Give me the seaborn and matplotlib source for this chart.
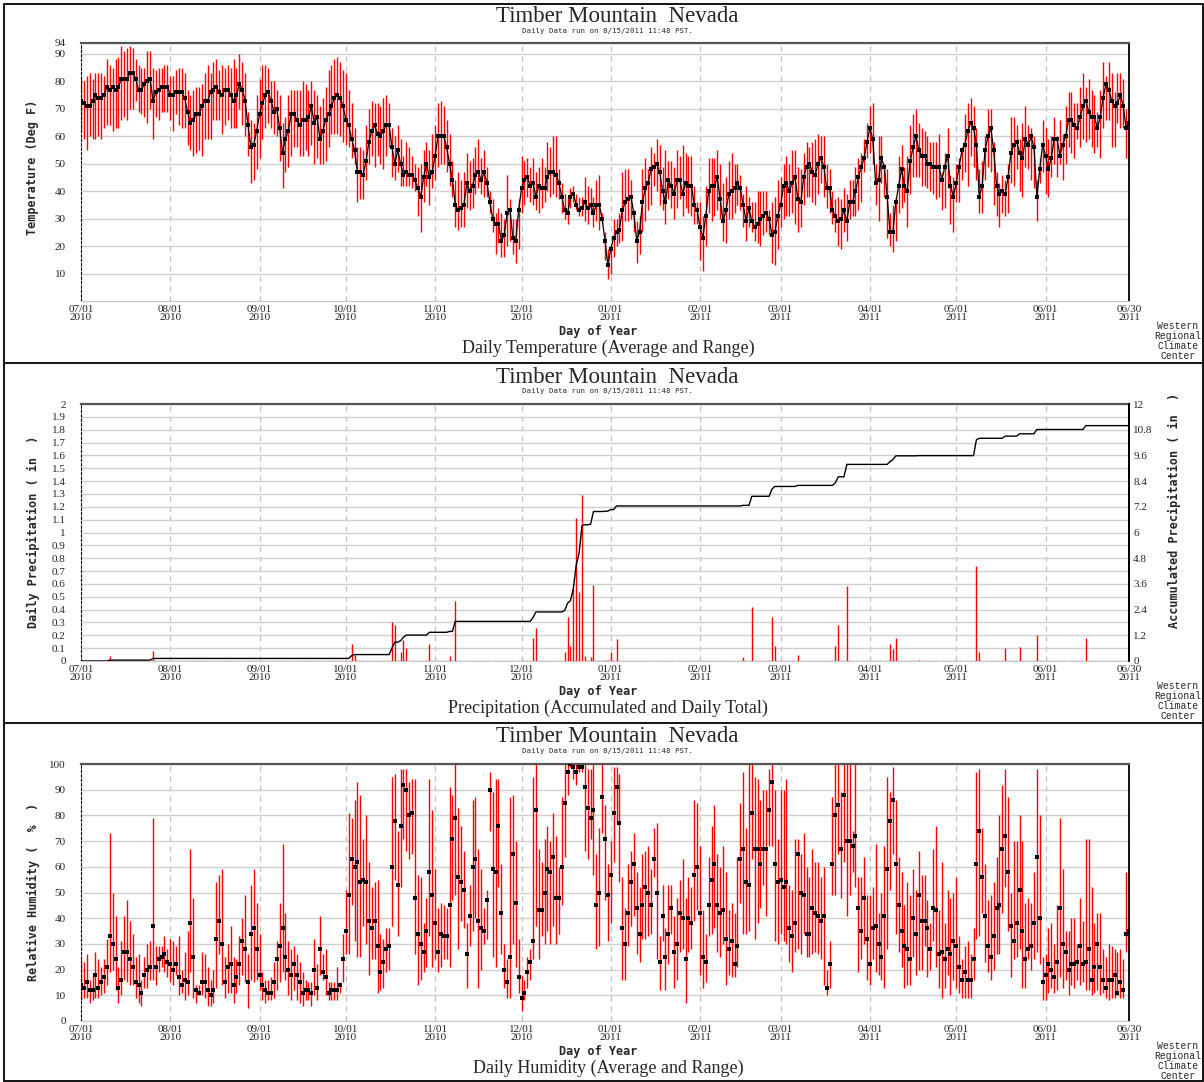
import numpy as np
import matplotlib
matplotlib.use("Agg")
import matplotlib.pyplot as plt
from matplotlib.patches import Rectangle
from matplotlib.lines import Line2D
import seaborn as sns

# ---- data ----
month_days = [0, 31, 62, 92, 123, 153, 184, 215, 243, 274, 304, 335, 364]
month_labels = ["07/01\n2010", "08/01\n2010", "09/01\n2010", "10/01\n2010", "11/01\n2010",
                "12/01\n2010", "01/01\n2011", "02/01\n2011", "03/01\n2011", "04/01\n2011",
                "05/01\n2011", "06/01\n2011", "06/30\n2011"]

temp_avg = [73, 72, 71, 71, 73, 75, 74, 74, 75, 78, 77, 78, 77, 78, 81, 81, 81, 83, 83, 81,
            77, 77, 79, 80, 81, 73, 76, 77, 78, 78, 78, 75, 75, 76, 76, 76, 74, 69, 65, 66,
            68, 68, 71, 73, 73, 76, 77, 78, 76, 75, 77, 77, 75, 73, 75, 79, 77, 73, 64, 56,
            57, 62, 68, 72, 75, 76, 73, 69, 70, 63, 54, 59, 62, 68, 68, 66, 64, 66, 66, 67,
            71, 65, 67, 59, 62, 66, 68, 71, 74, 75, 74, 71, 66,
            64, 59, 55, 47, 47, 46, 51,
            58, 62, 64, 61, 60, 62, 64, 64, 56, 50, 55, 50, 46, 47, 46, 46, 44, 41, 38, 45,
            50, 45, 47, 53, 60, 60, 60, 56, 50, 44, 35, 33, 34, 35, 43, 40, 42, 46, 47, 44,
            47, 43, 36, 30, 28, 28, 22, 24, 32, 33, 23, 22, 33, 41, 44, 45, 42, 43, 38, 42,
            41, 41, 45, 47, 47, 46, 43, 38, 33, 32, 38, 39, 35, 33, 34, 36, 34, 35, 32, 35,
            35, 30, 22, 13,
            19, 23, 25, 26, 33, 36, 37, 38, 32, 22, 25, 36, 41, 43, 48, 49, 50, 47, 40, 36,
            44, 42, 39, 44, 44, 39, 43, 42, 42, 35, 33, 27, 23, 31, 40, 42, 42, 45, 37, 29,
            33, 39, 40, 41, 43, 41, 35, 29, 34, 29, 27, 28, 30, 31, 32, 30, 24, 25, 31, 35,
            42, 43, 40, 43, 45, 37, 36, 45, 49, 50, 47, 46, 50, 52, 49, 41, 41, 33, 31, 29,
            30, 33, 29, 36, 36, 40, 45, 49, 52, 58, 63, 59,
            43, 44, 52, 49, 38, 25, 25, 36, 42, 48, 42, 40, 51, 56, 60, 55, 53, 53, 50, 50,
            49, 49, 49, 44, 49, 53, 42, 38, 43, 49, 55, 57, 62, 65, 63, 57, 38, 42, 55, 60,
            63, 55, 42, 39, 40, 39, 45, 54, 57, 58, 54, 52, 59, 57, 60, 56, 38, 48, 57, 53,
            48, 52, 59, 59, 53, 57, 60, 66, 66, 64, 63, 67, 71, 73, 69, 67, 67, 63, 67, 74,
            79, 77, 73, 71, 72, 75, 71, 63, 65]

temp_max = [81, 80, 82, 83, 81, 83, 83, 83, 82, 88, 86, 85, 88, 89, 93, 91, 92, 93, 92, 88,
            86, 85, 85, 91, 91, 85, 84, 85, 85, 86, 86, 82, 82, 84, 85, 85, 83, 77, 75, 77,
            78, 78, 79, 83, 86, 83, 87, 88, 84, 86, 85, 86, 85, 88, 85, 90, 87, 83, 69, 66,
            65, 75, 81, 86, 86, 85, 80, 80, 77, 75, 65, 67, 75, 77, 77, 77, 77, 80, 79, 77,
            80, 77, 75, 71, 74, 78, 84, 86, 88, 89, 87, 84, 83,
            77, 72, 63, 56, 56, 55, 64,
            70, 73, 72, 72, 71, 74, 75, 72, 63, 60, 64, 59, 53, 58, 56, 53, 50, 49, 50, 55,
            58, 55, 61, 64, 72, 73, 71, 66, 61, 51, 44, 47, 44, 47, 54, 51, 52, 56, 59, 52,
            55, 49, 40, 37, 32, 34, 32, 30, 46, 37, 30, 30, 37, 53, 51, 52, 49, 52, 47, 49,
            52, 49, 58, 56, 60, 60, 48, 43, 39, 38, 41, 42, 39, 38, 38, 45, 42, 41, 38, 44,
            46, 32, 25, 19,
            20, 30, 30, 32, 47, 48, 48, 44, 33, 29, 31, 48, 52, 48, 56, 54, 59, 57, 49, 55,
            51, 51, 49, 55, 53, 57, 54, 53, 53, 42, 36, 36, 31, 42, 52, 52, 52, 55, 50, 43,
            45, 51, 54, 50, 50, 46, 39, 42, 38, 36, 36, 40, 40, 40, 40, 33, 36, 38, 44, 45,
            50, 53, 50, 55, 55, 49, 48, 54, 58, 56, 58, 59, 61, 60, 60, 50, 48, 40, 37, 38,
            37, 41, 39, 44, 44, 49, 52, 54, 59, 65, 71, 72,
            50, 60, 60, 50, 48, 32, 35, 38, 53, 57, 49, 53, 64, 68, 70, 65, 63, 62, 60, 58,
            58, 58, 61, 47, 54, 63, 46, 45, 50, 52, 56, 68, 72, 74, 71, 63, 48, 51, 60, 70,
            70, 58, 47, 43, 46, 44, 50, 67, 67, 64, 59, 65, 71, 64, 63, 60, 44, 52, 66, 63,
            59, 60, 67, 60, 66, 61, 71, 76, 76, 72, 72, 78, 83, 78, 81, 77, 75, 69, 77, 87,
            82, 87, 83, 76, 83, 83, 81, 70, 79]

temp_min = [62, 59, 55, 60, 59, 59, 60, 59, 63, 64, 64, 62, 63, 63, 66, 67, 66, 70, 70, 73,
            69, 68, 67, 65, 70, 59, 67, 66, 69, 69, 69, 66, 62, 68, 64, 63, 63, 57, 55, 53,
            54, 55, 53, 59, 59, 59, 66, 66, 66, 61, 64, 66, 63, 63, 63, 70, 64, 60, 53, 43,
            44, 48, 52, 59, 63, 65, 63, 61, 60, 51, 41, 47, 49, 53, 56, 56, 53, 53, 55, 53,
            57, 50, 52, 50, 50, 51, 56, 61, 61, 61, 60, 58, 57,
            56, 52, 50, 36, 37, 37, 44,
            50, 53, 49, 53, 50, 48, 53, 56, 45, 44, 47, 42, 42, 42, 42, 41, 40, 31, 25, 36,
            42, 35, 41, 44, 49, 50, 50, 47, 42, 38, 27, 26, 27, 27, 34, 33, 34, 39, 41, 39,
            38, 38, 32, 25, 17, 21, 16, 16, 20, 22, 17, 14, 19, 32, 35, 38, 36, 35, 33, 32,
            34, 36, 40, 38, 39, 38, 37, 32, 30, 28, 34, 36, 33, 31, 31, 29, 28, 32, 27, 29,
            26, 28, 15, 8,
            10, 16, 20, 21, 22, 29, 29, 30, 25, 14, 17, 25, 29, 33, 35, 42, 40, 35, 33, 28,
            37, 34, 30, 34, 37, 31, 34, 32, 31, 28, 28, 15, 11, 20, 32, 29, 31, 33, 30, 22,
            21, 30, 30, 32, 35, 33, 27, 22, 27, 25, 22, 21, 20, 24, 25, 24, 14, 13, 19, 27,
            30, 31, 31, 32, 28, 25, 27, 35, 38, 38, 36, 35, 39, 43, 38, 34, 32, 28, 25, 20,
            19, 25, 22, 30, 31, 31, 33, 36, 47, 52, 54, 50,
            35, 29, 43, 38, 23, 20, 18, 22, 32, 34, 36, 27, 39, 45, 45, 45, 42, 42, 41, 40,
            39, 37, 38, 33, 34, 41, 28, 25, 36, 36, 44, 47, 42, 53, 49, 44, 32, 32, 44, 49,
            47, 35, 31, 27, 32, 31, 32, 43, 42, 48, 40, 38, 49, 48, 44, 41, 29, 43, 47, 39,
            38, 45, 50, 45, 50, 44, 50, 56, 54, 52, 59, 56, 59, 58, 59, 56, 54, 56, 52, 63,
            66, 66, 56, 56, 65, 63, 63, 52, 50]

hum_avg = [14, 13, 15, 12, 12, 18, 13, 15, 17, 21, 33, 30, 24, 13, 16, 27, 27, 24, 21, 15,
           14, 11, 18, 20, 21, 37, 21, 24, 25, 26, 23, 22, 20, 22, 17, 14, 16, 15, 38, 25,
           12, 11, 15, 15, 12, 10, 12, 32, 39, 30, 15, 21, 22, 14, 17, 22, 31, 28, 15, 34,
           36, 28, 18, 14, 12, 11, 11, 15, 24, 29, 36, 25, 20, 18, 22, 18, 15, 11, 12, 12,
           11, 20, 13, 28, 19, 17, 11, 12, 12, 12, 14, 24, 35,
           49, 63, 60, 62, 54, 55, 54,
           39, 36, 39, 29, 19, 23, 28, 29, 60, 78, 53, 76, 92, 90, 80, 81, 48, 34, 30, 27,
           35, 58, 49, 38, 27, 34, 33, 33, 45, 71, 79, 56, 54, 51, 26, 41, 60, 63, 39, 36,
           35, 47, 90, 59, 58, 76, 42, 20, 15, 25, 65, 46, 17, 9, 11, 19, 23, 31, 82, 43,
           43, 50, 59, 58, 64, 48, 48, 60, 85, 97, 100, 99, 97, 99, 99, 91, 83, 79, 82, 45,
           50, 87, 71, 49,
           57, 81, 91, 77, 36, 30, 42, 54, 61, 44, 34, 45, 52, 50, 45, 63, 50, 23, 41, 25,
           34, 44, 27, 30, 42, 40, 24, 40, 38, 57, 60, 42, 25, 23, 45, 55, 61, 45, 42, 43,
           32, 28, 31, 22, 29, 63, 67, 54, 53, 81, 67, 67, 61, 67, 67, 82, 93, 61, 54, 55,
           52, 54, 36, 33, 38, 65, 50, 49, 34, 34, 44, 42, 41, 39, 41, 13, 22, 61, 80, 84,
           67, 88, 70, 70, 68, 72, 44, 35, 48, 32, 22, 36,
           37, 30, 25, 41, 59, 78, 86, 61, 45, 35, 29, 28, 24, 40, 34, 49, 39, 39, 36, 28,
           44, 43, 26, 27, 24, 28, 26, 31, 29, 21, 16, 19, 16, 16, 24, 61, 74, 56, 41, 29,
           25, 33, 44, 45, 67, 72, 58, 37, 31, 38, 51, 35, 24, 28, 29, 38, 64, 40, 15, 18,
           22, 20, 17, 23, 44, 30, 27, 20, 22, 22, 23, 29, 22, 23, 28, 16, 21, 30, 21, 16,
           13, 16, 16, 18, 11, 15, 12, 34, 35]

hum_max = [24, 23, 26, 16, 18, 27, 24, 21, 24, 32, 73, 50, 41, 21, 31, 41, 47, 39, 34, 25,
           26, 16, 25, 30, 31, 79, 29, 29, 29, 33, 28, 32, 31, 29, 33, 20, 27, 35, 67, 48,
           14, 14, 27, 26, 21, 16, 20, 54, 57, 59, 25, 30, 37, 25, 24, 33, 40, 49, 26, 53,
           59, 46, 34, 19, 16, 16, 17, 23, 31, 46, 69, 42, 31, 28, 29, 26, 23, 19, 16, 15,
           15, 32, 22, 41, 26, 28, 15, 15, 15, 21, 15, 34, 51,
           81, 79, 86, 93, 88, 71, 80,
           62, 52, 54, 55, 34, 32, 36, 36, 95, 96, 74, 98, 98, 98, 93, 94, 94, 57, 56, 38,
           48, 94, 82, 59, 44, 46, 45, 44, 91, 88, 100, 83, 76, 66, 38, 53, 86, 87, 67, 59,
           44, 51, 97, 89, 94, 94, 61, 30, 24, 87, 88, 70, 32, 18, 16, 25, 28, 95, 100, 67,
           62, 71, 76, 70, 81, 72, 60, 87, 100, 100, 100, 100, 100, 100, 100, 100, 98, 98, 100, 65,
           75, 100, 84, 61,
           70, 99, 99, 96, 56, 44, 61, 66, 73, 58, 52, 65, 66, 68, 59, 75, 77, 33, 53, 36,
           53, 53, 41, 48, 55, 63, 48, 56, 52, 86, 85, 68, 43, 34, 64, 76, 84, 65, 60, 68,
           58, 43, 46, 42, 64, 85, 97, 75, 100, 100, 95, 94, 86, 90, 90, 98, 100, 90, 71, 90,
           90, 94, 53, 51, 71, 71, 65, 73, 60, 56, 67, 62, 62, 56, 60, 20, 31, 87, 100, 100,
           89, 100, 100, 100, 74, 100, 56, 56, 64, 49, 49, 52,
           69, 42, 50, 68, 95, 89, 99, 86, 64, 58, 45, 54, 49, 59, 51, 66, 57, 57, 47, 38,
           67, 76, 43, 62, 38, 51, 48, 50, 56, 33, 24, 29, 31, 26, 36, 97, 98, 75, 61, 47,
           49, 54, 64, 80, 92, 98, 87, 50, 70, 70, 80, 70, 46, 48, 46, 58, 98, 80, 25, 26,
           36, 38, 30, 45, 79, 59, 35, 35, 40, 40, 30, 48, 39, 71, 71, 52, 38, 42, 42, 28,
           25, 30, 29, 28, 27, 28, 24, 58, 67]

hum_min = [8, 9, 9, 7, 8, 9, 9, 10, 11, 14, 19, 20, 12, 7, 10, 16, 15, 14, 14, 9,
           7, 6, 13, 13, 16, 16, 14, 19, 21, 19, 17, 15, 14, 18, 10, 11, 8, 10, 19, 9,
           7, 10, 10, 9, 6, 6, 7, 13, 26, 14, 9, 11, 11, 7, 11, 14, 18, 15, 5, 16,
           15, 16, 12, 8, 7, 8, 8, 9, 12, 15, 19, 16, 10, 8, 12, 8, 7, 6, 8, 8,
           6, 10, 8, 18, 16, 10, 8, 8, 8, 8, 11, 15, 26,
           26, 45, 31, 25, 25, 37, 30,
           18, 24, 24, 11, 12, 13, 19, 20, 37, 55, 33, 52, 71, 66, 63, 65, 26, 14, 16, 19,
           21, 33, 21, 24, 19, 21, 24, 24, 21, 47, 49, 28, 39, 36, 13, 29, 35, 40, 13, 20,
           30, 32, 74, 25, 21, 52, 26, 13, 9, 9, 30, 21, 11, 4, 8, 13, 16, 24, 37, 24,
           33, 30, 35, 30, 37, 30, 34, 45, 64, 88, 99, 94, 92, 97, 97, 66, 63, 71, 57, 28,
           29, 73, 47, 31,
           38, 62, 77, 54, 16, 16, 29, 37, 41, 26, 23, 32, 32, 33, 34, 56, 24, 12, 31, 12,
           22, 34, 13, 16, 27, 28, 7, 27, 28, 39, 43, 18, 13, 15, 33, 34, 36, 27, 25, 30,
           14, 18, 17, 17, 21, 46, 34, 34, 35, 63, 32, 38, 44, 53, 41, 68, 68, 31, 30, 34,
           31, 30, 23, 19, 27, 28, 26, 34, 25, 25, 26, 27, 26, 24, 14, 10, 13, 49, 49, 65,
           48, 62, 41, 49, 58, 52, 19, 24, 30, 16, 14, 24,
           19, 18, 16, 13, 28, 51, 65, 34, 27, 21, 13, 14, 14, 25, 18, 20, 20, 29, 17, 20,
           31, 21, 13, 9, 13, 18, 10, 16, 13, 11, 9, 9, 9, 9, 16, 32, 33, 42, 23, 19,
           16, 20, 26, 26, 42, 52, 35, 17, 24, 25, 28, 13, 13, 24, 20, 24, 27, 22, 8, 8,
           11, 13, 11, 12, 17, 13, 16, 10, 14, 13, 16, 14, 15, 12, 12, 10, 11, 12, 10, 11,
           9, 8, 9, 9, 10, 9, 9, 27, 17]

rain_days = [10, 25, 94, 95, 108, 109, 111, 112, 113, 121, 128, 130, 157, 158, 168, 169,
             170, 171, 172, 173, 174, 175, 177, 178, 182, 183, 184, 186, 230, 233, 240, 241,
             249, 262, 263, 266, 281, 282, 283, 291, 311, 312, 321, 326, 332, 349]
rain_in = [0.04, 0.08, 0.13, 0.05, 0.30, 0.28, 0.07, 0.16, 0.10, 0.13, 0.04, 0.47, 0.18, 0.26,
           0.07, 0.34, 0.12, 0.56, 1.11, 0.54, 1.29, 0.04, 0.03, 0.59, 0.01, 0.01, 0.07, 0.17,
           0.03, 0.42, 0.34, 0.12, 0.05, 0.12, 0.28, 0.58, 0.13, 0.09, 0.18, 0.01, 0.74, 0.07,
           0.10, 0.11, 0.20, 0.18]

days = np.arange(len(temp_avg))
daily_rain = np.zeros(len(days))
daily_rain[rain_days] = rain_in
accum_rain = np.cumsum(daily_rain)

# ---- figure ----
W, H = 1204, 1082
sns.set_style("white")
plt.rcParams["font.family"] = ["DejaVu Sans"]
SERIF = "Liberation Serif"
MONO = "DejaVu Sans Mono"
COUR = "Liberation Mono"

fig = plt.figure(figsize=(W / 100, H / 100), dpi=100)


def fx(x):
    return x / W


def fy(y):
    return 1 - y / H


def base_axes(top, bottom, ylim, yticks, ylabels):
    ax = fig.add_axes([fx(81), fy(bottom), fx(1048), (bottom - top) / H])
    ax.set_xlim(0, 364)
    ax.set_ylim(*ylim)
    ax.set_xticks(month_days)
    ax.set_xticklabels(month_labels, fontsize=8, family=SERIF, linespacing=0.85)
    ax.set_yticks(yticks)
    ax.set_yticklabels(ylabels, fontsize=8, family=SERIF)
    ax.tick_params(axis="both", length=0)
    ax.tick_params(axis="x", pad=3)
    ax.tick_params(axis="y", pad=11)
    ax.yaxis.grid(True, color="#cfcfcf", lw=1.0)
    ax.xaxis.grid(True, color="#bdbdbd", lw=0.9, ls=(0, (4, 4)))
    ax.set_axisbelow(True)
    ax.spines["left"].set_linestyle((0, (2, 2)))
    ax.spines["left"].set_color("black")
    ax.spines["top"].set_color("#555555")
    ax.spines["top"].set_linewidth(1.6)
    ax.spines["bottom"].set_color("#c8c8c8")
    ax.spines["right"].set_color("black")
    ax.spines["right"].set_linewidth(1.3)
    return ax


def panel_text(off, caption):
    fig.text(fx(617), fy(17 + off), "Timber Mountain  Nevada", family=SERIF,
             fontsize=16.5, ha="center", va="center")
    fig.text(fx(608), fy(31 + off), "Daily Data run on 8/15/2011 11:48 PST.", family=MONO,
             fontsize=5.3, ha="center", va="center")
    fig.text(fx(598), fy(332 + off), "Day of Year", family=MONO, weight="bold",
             fontsize=8.5, ha="center", va="center")
    fig.text(fx(608), fy(348 + off), caption, family=SERIF, fontsize=13,
             ha="center", va="center")
    fig.text(fx(1178), fy(321 + off), "Western\nRegional\nClimate\nCenter", family=COUR,
             fontsize=7, ha="center", va="top", linespacing=1.0)


# temperature panel
ax_t = base_axes(43, 301, (0, 94), [10, 20, 30, 40, 50, 60, 70, 80, 90, 94],
                 ["10", "20", "30", "40", "50", "60", "70", "80", "90", "94"])
ax_t.vlines(days, temp_min, temp_max, color="red", lw=1.0, zorder=2)
sns.lineplot(x=days, y=temp_avg, ax=ax_t, color="black", lw=0.9, marker="s",
             markersize=2.2, markeredgewidth=0, zorder=3)
ax_t.set_xlabel("")
ax_t.set_ylabel("")
fig.text(fx(33), fy(167), "Temperature (Deg F)", family=MONO, weight="bold", fontsize=8.5,
         rotation=90, ha="center", va="center")
panel_text(0, "Daily Temperature (Average and Range)")

# precipitation panel
p_ticks = [round(0.1 * i, 1) for i in range(21)]
ax_p = base_axes(404, 661, (0, 2), p_ticks, ["%g" % v for v in p_ticks])
ax_p.vlines(days, 0, daily_rain, color="red", lw=1.0, zorder=2)
ax_p.axhline(0, color="red", lw=1.0, ls=(0, (1, 1.5)), zorder=2)
ax_r = ax_p.twinx()
sns.lineplot(x=days, y=accum_rain, ax=ax_r, color="black", lw=1.0, zorder=3)
ax_r.set_ylim(0, 12)
r_ticks = [round(1.2 * i, 1) for i in range(11)]
ax_r.set_yticks(r_ticks)
ax_r.set_yticklabels(["%g" % v for v in r_ticks], fontsize=8, family=SERIF)
ax_r.tick_params(axis="y", length=0, pad=3)
ax_r.set_ylabel("")
ax_r.set_xlabel("")
for s in ["left", "top", "bottom"]:
    ax_r.spines[s].set_visible(False)
ax_r.spines["right"].set_color("black")
ax_r.spines["right"].set_linewidth(1.3)
fig.text(fx(33), fy(532), "Daily Precipitation ( in  )", family=MONO, weight="bold",
         fontsize=8.5, rotation=90, ha="center", va="center")
fig.text(fx(1174), fy(510), "Accumulated Precipitation ( in  )", family=MONO, weight="bold",
         fontsize=8.5, rotation=90, ha="center", va="center")
panel_text(360, "Precipitation (Accumulated and Daily Total)")

# humidity panel
h_ticks = list(range(0, 101, 10))
ax_h = base_axes(764, 1021, (0, 100), h_ticks, [str(v) for v in h_ticks])
ax_h.vlines(days, hum_min, hum_max, color="red", lw=1.0, zorder=2)
sns.scatterplot(x=days, y=hum_avg, ax=ax_h, color="black", marker="s", s=5,
                linewidth=0, zorder=3)
ax_h.set_xlabel("")
ax_h.set_ylabel("")
fig.text(fx(33), fy(892), "Relative Humidity (  %  )", family=MONO, weight="bold",
         fontsize=8.5, rotation=90, ha="center", va="center")
panel_text(720, "Daily Humidity (Average and Range)")

# panel frames
fig.add_artist(Rectangle((fx(4), fy(1081)), fx(1199), 1077 / H, transform=fig.transFigure,
                         fill=False, ec="black", lw=1.3))
for yy in (363, 723):
    fig.add_artist(Line2D([fx(4), fx(1203)], [fy(yy), fy(yy)], transform=fig.transFigure,
                          color="black", lw=1.3))

fig.savefig("out.png", dpi=100)
